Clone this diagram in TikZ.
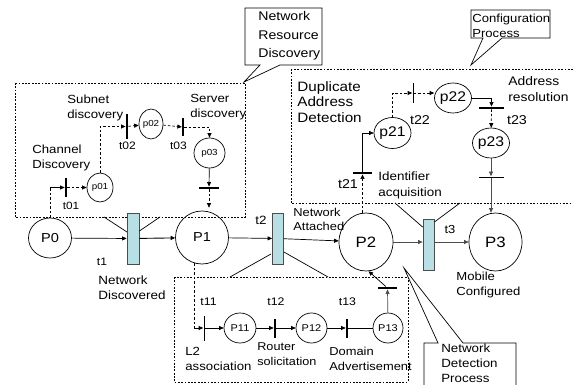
\documentclass[tikz,border=0pt]{standalone}
\usepackage{fontspec}
\setmainfont{Liberation Sans}[FakeStretch=1.12]
\usetikzlibrary{arrows.meta,shapes.geometric}
\definecolor{tcyan}{RGB}{184,224,228}
\newcommand\fsz[2]{\fontsize{#1}{#2}\selectfont}
\tikzset{
  place/.style={draw, ellipse, inner sep=0pt, line width=0.7pt},
  trans/.style={draw=black!70, fill=tcyan, inner sep=0pt, line width=0.8pt,
                minimum width=11pt, minimum height=51pt},
  barv/.style={fill=black, draw=none, inner sep=0pt, minimum height=#1},
  barh/.style={fill=black, draw=none, inner sep=0pt, minimum width=#1},
  arr/.style={-{Triangle[length=4.5pt,width=4pt]}},
  dsh/.style={dash pattern=on 2.5pt off 2pt},
  region/.style={dash pattern=on 1.8pt off 1.5pt, line width=0.7pt},
  lbl/.style={align=left, inner sep=0pt, anchor=west},
  callout/.style={draw, fill=white, line width=0.7pt},
}
\begin{document}
\begin{tikzpicture}[x=1pt, y=-1pt, line width=0.7pt]
\useasboundingbox (0,0) rectangle (573,385);
\fill[white] (0,0) rectangle (573,385);
\clip (0,0) rectangle (573,385);

% ---- sub-net regions ----
\draw[region] (15,83) rectangle (245,217);
\draw[region] (291,69) rectangle (590,203);
\draw[region] (174,277) rectangle (408,382);

% ---- main places ----
\node[place, minimum width=43pt, minimum height=40pt, font=\fsz{13}{15}] (P0) at (50,238) {P0};
\node[place, minimum width=53pt, minimum height=53pt, font=\fsz{13}{15}] (P1) at (202,237.5) {P1};
\node[place, minimum width=54pt, minimum height=58pt, font=\fsz{15}{17}] (P2) at (366,242) {P2};
\node[place, minimum width=53pt, minimum height=58pt, font=\fsz{15}{17}] (P3) at (495.5,242) {P3};

% ---- main transitions ----
\node[trans, minimum width=12pt] (t1) at (133,238.5) {};
\node[trans] (t2) at (278,238.5) {};
\node[trans] (t3) at (428.5,244.5) {};

% ---- resource discovery sub-net ----
\node[place, minimum width=26pt, minimum height=29pt, font=\fsz{8.8}{10}] (p01) at (100,187.5) {p01};
\node[place, minimum width=24pt, minimum height=30pt, font=\fsz{8.8}{10}] (p02) at (151,124) {p02};
\node[place, minimum width=31pt, minimum height=30pt, font=\fsz{8.8}{10}] (p03) at (209.5,153) {p03};
\node[barv=19pt, minimum width=2pt] (t01) at (66,187.5) {};
\node[barv=25pt, minimum width=2.2pt] (t02) at (127,126.5) {};
\node[barv=18pt, minimum width=1.6pt] (t03) at (183,127) {};
\node[barh=20pt, minimum height=2.2pt] (tb1) at (209,188) {};

% ---- configuration sub-net ----
\node[place, minimum width=31pt, minimum height=31pt, font=\fsz{14}{16}] (p21) at (392.5,133) {p21};
\node[place, minimum width=30pt, minimum height=30pt, font=\fsz{14}{16}] (p22) at (453,98) {p22};
\node[place, minimum width=31pt, minimum height=30pt, font=\fsz{14}{16}] (p23) at (491,143) {p23};
\node[barh=19pt, minimum height=2.2pt] (t21) at (362.5,173) {};
\node[barv=20pt, minimum width=1pt] (t22) at (413,93) {};
\node[barh=25pt, minimum height=2.2pt] (t23) at (491.5,108) {};
\node[barh=25pt, minimum height=1pt] (tb3) at (491,177) {};

% ---- detection sub-net ----
\node[place, minimum width=32pt, minimum height=30pt, font=\fsz{9.8}{11}] (P11) at (240,328) {P11};
\node[place, minimum width=31pt, minimum height=30pt, font=\fsz{9.8}{11}] (P12) at (311.5,328) {P12};
\node[place, minimum width=30pt, minimum height=30pt, font=\fsz{9.8}{11}] (P13) at (388,328) {P13};
\node[barv=25pt, minimum width=1pt] (t11) at (204,328) {};
\node[barv=19pt, minimum width=2pt] (t12) at (275,328) {};
\node[barv=19pt, minimum width=2pt] (t13) at (347,328) {};
\node[barh=19pt, minimum height=2.2pt] (tb13) at (387.5,288) {};

% ---- main arcs ----
\draw[arr] (P0) -- (t1);
\draw[arr, line width=0.9pt] (t1) -- (P1);
\draw[arr] (P1) -- (t2);
\draw[arr] (t2) -- (P2);
\draw[arr, black!70] (P2.east) -- (P2.east -| t3.west);
\draw[arr, black!70] (t3.east |- P2.east) -- (P3);

% ---- resource discovery arcs ----
\draw[dsh] (P0.north) -- (P0.north |- t01);
\draw[arr] (P0.north |- t01) -- (t01);
\draw[arr, dsh] (t01) -- (p01);
\draw[arr, dsh] (p01.north) |- (t02);
\draw[arr, dsh] (t02) -- (p02);
\draw[arr, dsh] (p02) -- (t03);
\draw[arr, dsh] (t03) -| (p03.north);
\draw[arr] (p03) -- (tb1);
\draw[arr, dsh, shorten >=3pt] (tb1) -- (tb1 |- P1.north);

% ---- configuration arcs ----
\draw[arr, dsh] (t21 |- P2.north) -- (t21);
\draw[arr] (t21) |- (p21);
\draw[arr, dsh] (p21.north) |- (t22);
\draw[arr, dsh] (t22.east) -- (t22.east -| p22.west);
\draw[arr] (p22.east) -| (t23);
\draw[arr, dsh] (t23) -- (p23);
\draw[arr, black!70] (p23) -- (tb3);
\draw[arr, black!70] (tb3) -- (tb3 |- P3.north);

% ---- detection arcs ----
\draw[dsh] (P1.-107) -- (P1.-107 |- t11);
\draw[arr] (P1.-107 |- t11) -- (t11);
\draw[arr] (t11) -- (P11);
\draw[arr] (P11) -- (t12);
\draw[arr] (t12) -- (P12);
\draw[arr] (P12) -- (t13);
\draw (t13) -- (P13);
\draw[arr, black!70] (P13) -- (tb13);
\draw[arr] (tb13) -- (P2.-85);

% ---- sub-nets folded into their transitions ----
\coordinate (a1) at (104,217);  \coordinate (b1) at (160,217);
\coordinate (a2) at (230,277);  \coordinate (b2) at (328,277);
\coordinate (a3) at (395,203);  \coordinate (b3) at (460,203);
\draw (a1) -- (127,232);  \draw (t1.east |- 0,231) -- (b1);
\draw (a2) -- (271,254);  \draw (t2.east |- 0,252) -- (b2);
\draw (a3) -- (t3.west |- 0,227);  \draw (t3.east |- 0,222) -- (b3);

% ---- labels ----
\node[lbl, font=\fsz{11.8}{15}] at (67,107.5) {Subnet\\discovery};
\node[lbl, font=\fsz{11.8}{15}] at (190,107.5) {Server\\discovery};
\node[lbl, font=\fsz{11.8}{15}] at (32,157.5) {Channel\\Discovery};
\node[font=\fsz{10.5}{12}] at (71,206) {t01};
\node[font=\fsz{10.8}{12}] at (127.5,146) {t02};
\node[font=\fsz{10.8}{12}] at (178.5,146) {t03};

\node[lbl, font=\fsz{13.6}{15.5}] at (297,102) {Duplicate\\Address\\Detection};
\node[lbl, font=\fsz{12.4}{16}] at (508,89) {Address\\resolution};
\node[lbl, font=\fsz{12}{16}] at (378,185) {Identifier\\acquisition};
\node[font=\fsz{12.8}{14}] at (420,120) {t22};
\node[font=\fsz{12.8}{14}] at (517,120) {t23};
\node[font=\fsz{12.8}{14}] at (348,184) {t21};

\node[font=\fsz{10.8}{12}] at (102,262) {t1};
\node[lbl, font=\fsz{12}{15}] at (98,287.5) {Network\\Discovered};
\node[font=\fsz{12}{14}] at (261,220) {t2};
\node[lbl, font=\fsz{11.5}{14}] at (293,219) {Network\\Attached};
\node[font=\fsz{11.6}{13}] at (450,230) {t3};
\node[lbl, font=\fsz{11.7}{15}] at (456,284.5) {Mobile\\Configured};

\node[font=\fsz{11}{13}] at (208.5,302) {t11};
\node[font=\fsz{11}{13}] at (276,302) {t12};
\node[font=\fsz{11}{13}] at (347.5,302) {t13};
\node[lbl, font=\fsz{11.8}{14.5}] at (185,359) {L2\\association};
\node[lbl, font=\fsz{11.3}{14.5}] at (257,354) {Router\\solicitation};
\node[lbl, font=\fsz{11.5}{14.5}] at (329,359) {Domain\\Advertisement};

% ---- callouts ----
\draw[callout] (245,8) -- (322,8) -- (322,65) -- (280,65) -- (244,82)
  -- (260,65) -- (245,65) -- cycle;
\node[lbl, font=\fsz{12.6}{18.5}] at (258,36) {Network\\Resource\\Discovery};

\draw[callout] (471,10) -- (550,10) -- (550,38) -- (502,38) -- (471,65)
  -- (483,38) -- (471,38) -- cycle;
\node[lbl, font=\fsz{11.7}{15}] at (472,25.5) {Configuration\\Process};

\draw[callout] (424,343) -- (438,343) -- (404,268) -- (463,343) -- (516,343)
  -- (516,400) -- (424,400) -- cycle;
\node[lbl, font=\fsz{11.9}{15}] at (441,363) {Network\\Detection\\Process};
\end{tikzpicture}
\end{document}
